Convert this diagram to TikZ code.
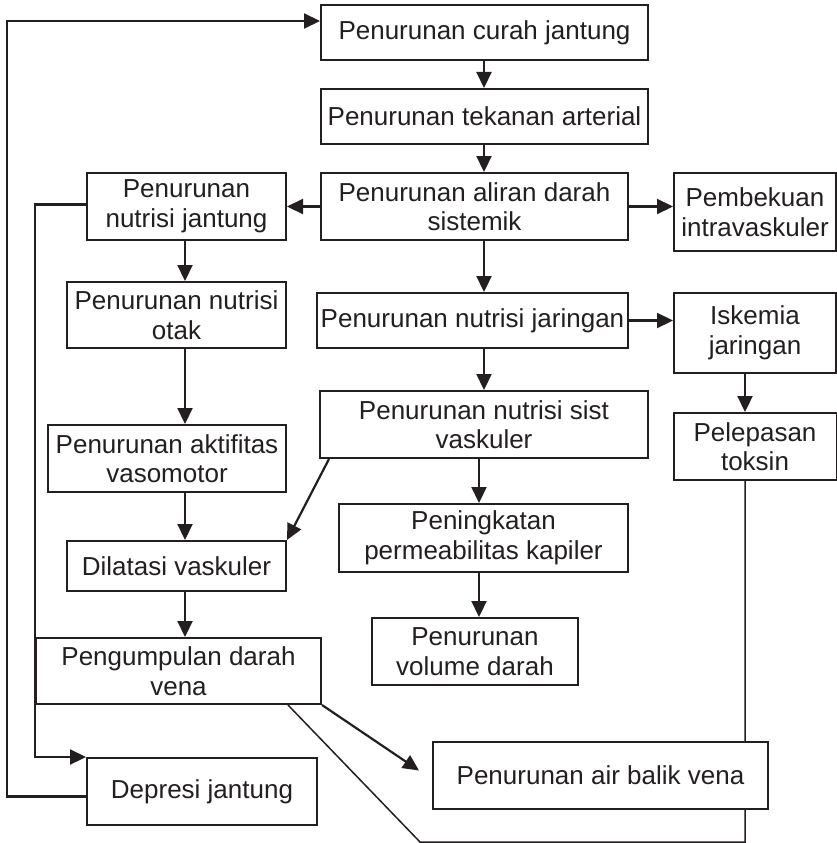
\documentclass[tikz,border=0pt]{standalone}
\usepackage{fontspec}
\setmainfont{Liberation Sans}
\usetikzlibrary{arrows.meta,calc}
\definecolor{ink}{HTML}{231F20}
\begin{document}
\begin{tikzpicture}[x=1pt,y=-1pt,
  box/.style={draw=ink,line width=2pt,fill=white,inner sep=0pt,align=center,
    text=ink,font=\fontsize{26}{29.5}\selectfont},
  flow/.style={draw=ink,line width=2.2pt,-{Triangle[length=16pt,width=15pt]}},
  thin/.style={draw=ink,line width=1.5pt}]
\useasboundingbox (0,0) rectangle (837,843);

% guide columns for the vertical connectors
\coordinate (spine) at (484,0);
\coordinate (lower) at (479,0);
\coordinate (left) at (185,0);
\coordinate (right) at (745,0);

% return path from the toxins box, drawn first so the boxes cover it
\coordinate (corner) at (420,842);
\node[box,minimum width=163pt,minimum height=67pt] (pelepasan) at (755,446.5) {Pelepasan\\toksin};
\node[box,minimum width=285pt,minimum height=66pt] (pengumpulan) at (178.5,671) {Pengumpulan darah\\vena};
\draw[thin] (pelepasan.south -| right) |- (corner) -- ([xshift=-34pt]pengumpulan.south east);

% boxes
\node[box,minimum width=327pt,minimum height=55pt] (curah) at (484.5,32.5) {Penurunan curah jantung};
\node[box,minimum width=327pt,minimum height=55pt] (tekanan) at (484.5,116.5) {Penurunan tekanan arterial};
\node[box,minimum width=307pt,minimum height=67pt] (aliran) at (474.5,206.5) {Penurunan aliran darah\\sistemik};
\node[box,minimum width=199pt,minimum height=67pt] (njantung) at (186.5,206.5) {Penurunan\\nutrisi jantung};
\node[box,minimum width=162pt,minimum height=78pt] (pembekuan) at (755,212) {Pembekuan\\intravaskuler};
\node[box,minimum width=219pt,minimum height=66pt] (otak) at (176.5,315) {Penurunan nutrisi\\otak};
\node[box,minimum width=311pt,minimum height=55pt] (jaringan) at (472.5,320.5) {Penurunan nutrisi jaringan};
\node[box,minimum width=162pt,minimum height=80pt] (iskemia) at (755,333) {Iskemia\\jaringan};
\node[box,minimum width=328pt,minimum height=67pt] (sist) at (484,424.5) {Penurunan nutrisi sist\\vaskuler};
\node[box,minimum width=238pt,minimum height=67pt] (aktifitas) at (167,458.5) {Penurunan aktifitas\\vasomotor};
\node[box,minimum width=219pt,minimum height=50pt] (dilatasi) at (176.5,566) {Dilatasi vaskuler};
\node[box,minimum width=289pt,minimum height=68pt] (peningkatan) at (483.5,538) {Peningkatan\\permeabilitas kapiler};
\node[box,minimum width=206pt,minimum height=67pt] (volume) at (475,651.5) {Penurunan\\volume darah};
\node[box,minimum width=230pt,minimum height=67pt] (depresi) at (202,791.5) {Depresi jantung};
\node[box,minimum width=335pt,minimum height=67pt] (airbalik) at (600.5,775.5) {Penurunan air balik vena};

% main chain
\draw[flow] (curah.south -| spine) -- (tekanan.north -| spine);
\draw[flow] (tekanan.south -| spine) -- (aliran.north -| spine);
\draw[flow] (aliran.south -| spine) -- (jaringan.north -| spine);
\draw[flow] (jaringan.south -| spine) -- (sist.north -| spine);
\draw[flow] (sist.south -| lower) -- (peningkatan.north -| lower);
\draw[flow] (peningkatan.south -| lower) -- (volume.north -| lower);

% side branches
\draw[flow] (aliran.west) -- (njantung.east);
\draw[flow] (aliran.east) -- (aliran.east -| pembekuan.west);
\draw[flow] (jaringan.east) -- (jaringan.east -| iskemia.west);
\draw[flow] (iskemia.south -| right) -- (pelepasan.north -| right);
\draw[flow] ([xshift=10pt]sist.south west) -- (dilatasi.north east);

% left column
\draw[flow] (njantung.south -| left) -- (otak.north -| left);
\draw[flow] (otak.south -| left) -- (aktifitas.north -| left);
\draw[flow] (aktifitas.south -| left) -- (dilatasi.north -| left);
\draw[flow] (dilatasi.south -| left) -- (pengumpulan.north -| left);
\draw[flow] (pengumpulan.south east) -- ([xshift=-13pt,yshift=5pt]airbalik.west);

% feedback loops
\draw[flow] ([yshift=2pt]njantung.west) -| (pengumpulan.west |- depresi.north) -- (depresi.north west);
\draw[flow] ([yshift=-5pt]depresi.west) -- ++(-79,0) |- ([yshift=11.5pt]curah.west);
\end{tikzpicture}
\end{document}
